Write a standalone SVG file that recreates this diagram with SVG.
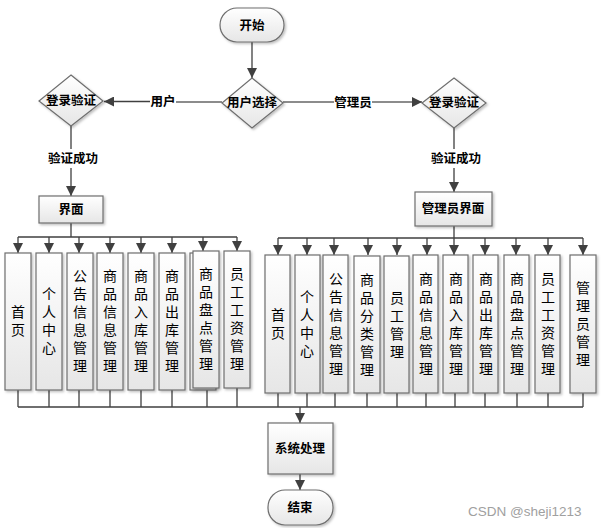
<svg xmlns="http://www.w3.org/2000/svg" width="605" height="528" viewBox="0 0 605 528">
<style>
.bg{fill:#fff}
.box{fill:url(#g);stroke:#6e6e6e;stroke-width:1.2;filter:url(#sh)}
.c{fill:none;stroke:#404040;stroke-width:1.3}
.cg{fill:none;stroke:#8c8c8c;stroke-width:2}
.lbl{font-family:"Noto Sans CJK SC","Noto Sans",sans-serif;font-size:12.5px;font-weight:bold;fill:#000;text-anchor:middle}
.v{font-family:"Noto Sans CJK SC","Noto Sans",sans-serif;font-size:14px;fill:#000;text-anchor:middle;writing-mode:vertical-rl;letter-spacing:4px}
.wm{font-family:"Liberation Sans",Arial,sans-serif;font-size:13.5px;fill:#a0a0a0}
</style>
<defs>
<linearGradient id="g" x1="0" y1="0" x2="0" y2="1">
<stop offset="0" stop-color="#ffffff"/>
<stop offset="1" stop-color="#e6e6e6"/>
</linearGradient>
<filter id="sh" x="-20%" y="-20%" width="140%" height="140%">
<feDropShadow dx="1.5" dy="1.5" stdDeviation="0.8" flood-color="#000" flood-opacity="0.25"/>
</filter>
<marker id="a" viewBox="0 0 10 10" refX="10" refY="5" markerWidth="10" markerHeight="10" markerUnits="userSpaceOnUse" orient="auto">
<path d="M0,0 L10,5 L0,10 Z" fill="#404040"/>
</marker>
</defs>
<rect class="bg" width="605" height="528"/>

<g id="connectors">
<path class="c" d="M252,42 V78" marker-end="url(#a)"/>
<path class="cg" d="M222,102 H176"/>
<path class="c" d="M150,101.5 H104" marker-end="url(#a)"/>
<path class="cg" d="M283,102 H334"/>
<path class="cg" d="M372,102 H412"/>
<path class="c" d="M412,102 H422" marker-end="url(#a)"/>
<path class="c" d="M71,126 V149 M71,168 V196" marker-end="url(#a)"/>
<path class="c" d="M454,128 V149 M454,168 V192" marker-end="url(#a)"/>
<path class="c" d="M71,223 V237 M18,237 H237"/>
<path class="c" d="M18,237 V253" marker-end="url(#a)"/>
<path class="c" d="M49,237 V253" marker-end="url(#a)"/>
<path class="c" d="M79,237 V253" marker-end="url(#a)"/>
<path class="c" d="M110,237 V253" marker-end="url(#a)"/>
<path class="c" d="M141,237 V253" marker-end="url(#a)"/>
<path class="c" d="M172,237 V253" marker-end="url(#a)"/>
<path class="c" d="M203,237 V251" marker-end="url(#a)"/>
<path class="c" d="M237,237 V251" marker-end="url(#a)"/>
<path class="c" d="M454,226 V238 M278,238 H583"/>
<path class="c" d="M278,238 V255" marker-end="url(#a)"/>
<path class="c" d="M307,238 V255" marker-end="url(#a)"/>
<path class="c" d="M334,238 V255" marker-end="url(#a)"/>
<path class="c" d="M368,238 V255" marker-end="url(#a)"/>
<path class="c" d="M397,238 V255" marker-end="url(#a)"/>
<path class="c" d="M427,238 V255" marker-end="url(#a)"/>
<path class="c" d="M454,238 V255" marker-end="url(#a)"/>
<path class="c" d="M485,238 V255" marker-end="url(#a)"/>
<path class="c" d="M516,238 V255" marker-end="url(#a)"/>
<path class="c" d="M548,238 V255" marker-end="url(#a)"/>
<path class="c" d="M583,238 V255" marker-end="url(#a)"/>
<path class="c" d="M18,390 V407 M49,390 V407 M79,390 V407 M110,390 V407 M141,390 V407 M172,390 V407 M207,388 V407 M237,388 V407 M18,407 H583"/>
<path class="c" d="M278,393 V407 M307,393 V407 M335,393 V407 M367,393 V407 M397,393 V407 M426,393 V407 M455,393 V407 M485,393 V407 M517,393 V407 M548,393 V407 M583,393 V407"/>
<path class="c" d="M300,407 V423" marker-end="url(#a)"/>
<path class="c" d="M300,474 V490" marker-end="url(#a)"/>
</g>

<g id="lbl-user"><text class="lbl" x="163" y="106">用户</text></g>
<g id="lbl-admin"><text class="lbl" x="353" y="107">管理员</text></g>
<g id="lbl-ok-left"><text class="lbl" x="73" y="163">验证成功</text></g>
<g id="lbl-ok-right"><text class="lbl" x="456" y="163">验证成功</text></g>

<g id="start">
<rect class="box" x="220" y="8" width="64" height="34" rx="17"/>
<text class="lbl" x="252" y="30">开始</text>
</g>
<g id="choice">
<polygon class="box" points="252,78 283,103 252,128 222,103"/>
<text class="lbl" x="252" y="107">用户选择</text>
</g>
<g id="login-user">
<polygon class="box" points="71,75 103,101 71,126 39,101"/>
<text class="lbl" x="71" y="105">登录验证</text>
</g>
<g id="login-admin">
<polygon class="box" points="454,78 486,103 454,128 422,103"/>
<text class="lbl" x="454" y="107">登录验证</text>
</g>
<g id="ui-user">
<rect class="box" x="39" y="196" width="64" height="27"/>
<text class="lbl" x="71" y="214">界面</text>
</g>
<g id="ui-admin">
<rect class="box" x="415" y="192" width="77" height="34"/>
<text class="lbl" x="453" y="213">管理员界面</text>
</g>

<g id="u-home"><rect class="box" x="5" y="253" width="26" height="137"/><text class="v" x="18" y="323">首页</text></g>
<g id="u-center"><rect class="box" x="36" y="253" width="26" height="137"/><text class="v" x="49" y="323">个人中心</text></g>
<g id="u-notice"><rect class="box" x="67" y="253" width="26" height="137"/><text class="v" x="80" y="323">公告信息管理</text></g>
<g id="u-goods"><rect class="box" x="97" y="253" width="26" height="137"/><text class="v" x="110" y="323">商品信息管理</text></g>
<g id="u-in"><rect class="box" x="128" y="253" width="26" height="137"/><text class="v" x="141" y="323">商品入库管理</text></g>
<g id="u-out"><rect class="box" x="159" y="253" width="26" height="137"/><text class="v" x="172" y="323">商品出库管理</text></g>
<g id="u-stock"><rect class="box" x="190" y="253" width="26" height="137"/><rect class="box" x="193" y="251" width="26" height="137"/><text class="v" x="206" y="321">商品盘点管理</text></g>
<g id="u-salary"><rect class="box" x="224" y="251" width="26" height="137"/><text class="v" x="237" y="321">员工工资管理</text></g>

<g id="a-home"><rect class="box" x="265" y="255" width="25" height="138"/><text class="v" x="278" y="326">首页</text></g>
<g id="a-center"><rect class="box" x="295" y="255" width="25" height="138"/><text class="v" x="307" y="326">个人中心</text></g>
<g id="a-notice"><rect class="box" x="323" y="255" width="25" height="138"/><text class="v" x="336" y="326">公告信息管理</text></g>
<g id="a-cat"><rect class="box" x="354" y="256" width="26" height="137"/><text class="v" x="367" y="327">商品分类管理</text></g>
<g id="a-staff"><rect class="box" x="384" y="256" width="25" height="137"/><text class="v" x="397" y="327">员工管理</text></g>
<g id="a-goods"><rect class="box" x="413" y="255" width="25" height="138"/><text class="v" x="426" y="326">商品信息管理</text></g>
<g id="a-in"><rect class="box" x="443" y="255" width="25" height="138"/><text class="v" x="456" y="326">商品入库管理</text></g>
<g id="a-out"><rect class="box" x="473" y="255" width="25" height="138"/><text class="v" x="486" y="326">商品出库管理</text></g>
<g id="a-stock"><rect class="box" x="504" y="255" width="25" height="138"/><text class="v" x="517" y="326">商品盘点管理</text></g>
<g id="a-salary"><rect class="box" x="535" y="255" width="25" height="138"/><text class="v" x="548" y="326">员工工资管理</text></g>
<g id="a-admin"><rect class="box" x="570" y="255" width="26" height="138"/><text class="v" x="583" y="326">管理员管理</text></g>

<g id="process">
<rect class="box" x="268" y="423" width="65" height="51"/>
<text class="lbl" x="300" y="453">系统处理</text>
</g>
<g id="end">
<rect class="box" x="268" y="490" width="65" height="35" rx="17"/>
<text class="lbl" x="300" y="512">结束</text>
</g>
<text class="wm" x="468" y="516">CSDN @sheji1213</text>
</svg>
